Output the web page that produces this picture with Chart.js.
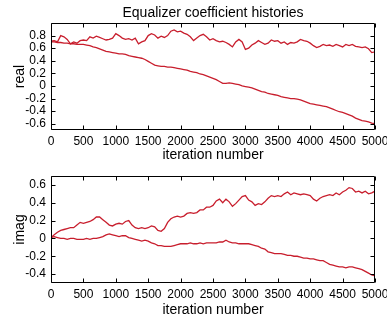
<!DOCTYPE html>
<html>
<head>
<meta charset="utf-8">
<script src="https://cdn.jsdelivr.net/npm/chart.js@4.4.1/dist/chart.umd.min.js"></script>
<style>
  body { margin: 0; background: #fff; }
  #topBox { position: absolute; left: 0; top: 0; width: 387px; height: 165px; }
  #bottomBox { position: absolute; left: 0; top: 165px; width: 387px; height: 155px; }
</style>
</head>
<body>
<div id="topBox"><canvas id="realChart"></canvas></div>
<div id="bottomBox"><canvas id="imagChart"></canvas></div>
<script>
// x 축 (iteration number), 50 간격
const iterations = [
  0, 50, 100, 150, 200, 250, 300, 350, 400, 450,
  500, 550, 600, 650, 700, 750, 800, 850, 900, 950,
  1000, 1050, 1100, 1150, 1200, 1250, 1300, 1350, 1400, 1450,
  1500, 1550, 1600, 1650, 1700, 1750, 1800, 1850, 1900, 1950,
  2000, 2050, 2100, 2150, 2200, 2250, 2300, 2350, 2400, 2450,
  2500, 2550, 2600, 2650, 2700, 2750, 2800, 2850, 2900, 2950,
  3000, 3050, 3100, 3150, 3200, 3250, 3300, 3350, 3400, 3450,
  3500, 3550, 3600, 3650, 3700, 3750, 3800, 3850, 3900, 3950,
  4000, 4050, 4100, 4150, 4200, 4250, 4300, 4350, 4400, 4450,
  4500, 4550, 4600, 4650, 4700, 4750, 4800, 4850, 4900, 4950,
  5000
];

// real - 위쪽 (흔들리는 선)
const realUpper = [
  0.71, 0.72, 0.70, 0.80, 0.78, 0.74, 0.67, 0.70, 0.68, 0.72,
  0.73, 0.72, 0.78, 0.76, 0.79, 0.77, 0.75, 0.73, 0.74, 0.76,
  0.83, 0.80, 0.76, 0.74, 0.75, 0.73, 0.76, 0.67, 0.70, 0.72,
  0.80, 0.83, 0.81, 0.76, 0.79, 0.77, 0.80, 0.87, 0.89, 0.86,
  0.87, 0.84, 0.82, 0.78, 0.72, 0.76, 0.80, 0.82, 0.78, 0.73,
  0.75, 0.72, 0.70, 0.71, 0.69, 0.66, 0.62, 0.70, 0.74, 0.70,
  0.58, 0.60, 0.65, 0.68, 0.72, 0.69, 0.66, 0.68, 0.73, 0.71,
  0.72, 0.68, 0.70, 0.66, 0.69, 0.68, 0.70, 0.74, 0.72, 0.71,
  0.68, 0.64, 0.61, 0.63, 0.66, 0.64, 0.65, 0.63, 0.66, 0.64,
  0.62, 0.66, 0.64, 0.66, 0.63, 0.62, 0.61, 0.62, 0.59, 0.53,
  0.54
];
// real - 아래쪽 (감소하는 선)
const realLower = [
  0.70, 0.70, 0.69, 0.69, 0.68, 0.68, 0.67, 0.67, 0.66, 0.66,
  0.66, 0.65, 0.64, 0.62, 0.61, 0.59, 0.57, 0.55, 0.54, 0.53,
  0.52, 0.51, 0.51, 0.50, 0.48, 0.47, 0.46, 0.45, 0.44, 0.42,
  0.39, 0.36, 0.33, 0.32, 0.31, 0.31, 0.30, 0.30, 0.29, 0.28,
  0.27, 0.26, 0.25, 0.23, 0.22, 0.21, 0.19, 0.18, 0.16, 0.14,
  0.12, 0.10, 0.07, 0.04, 0.04, 0.05, 0.04, 0.03, 0.02, 0.00,
  -0.01, -0.02, -0.03, -0.05, -0.07, -0.09, -0.10, -0.12, -0.13, -0.14,
  -0.15, -0.17, -0.18, -0.19, -0.20, -0.20, -0.21, -0.22, -0.24, -0.26,
  -0.28, -0.29, -0.30, -0.31, -0.32, -0.33, -0.35, -0.37, -0.39, -0.41,
  -0.42, -0.44, -0.46, -0.48, -0.51, -0.53, -0.55, -0.56, -0.57, -0.59,
  -0.60
];
// imag - 위쪽 (증가하는 선)
const imagUpper = [
  0.01, 0.04, 0.07, 0.09, 0.10, 0.11, 0.12, 0.12, 0.15, 0.18,
  0.17, 0.18, 0.19, 0.21, 0.24, 0.24, 0.21, 0.18, 0.15, 0.14,
  0.16, 0.17, 0.16, 0.19, 0.20, 0.15, 0.12, 0.11, 0.12, 0.11,
  0.12, 0.14, 0.13, 0.09, 0.08, 0.11, 0.18, 0.22, 0.24, 0.25,
  0.24, 0.25, 0.28, 0.29, 0.28, 0.29, 0.32, 0.32, 0.35, 0.35,
  0.37, 0.42, 0.44, 0.40, 0.44, 0.41, 0.36, 0.39, 0.43, 0.47,
  0.48, 0.43, 0.41, 0.37, 0.39, 0.38, 0.41, 0.45, 0.48, 0.47,
  0.48, 0.47, 0.50, 0.52, 0.49, 0.51, 0.50, 0.49, 0.50, 0.49,
  0.48, 0.44, 0.42, 0.45, 0.47, 0.48, 0.49, 0.48, 0.51, 0.49,
  0.52, 0.54, 0.57, 0.56, 0.52, 0.53, 0.51, 0.53, 0.50, 0.51,
  0.53
];
// imag - 아래쪽
const imagLower = [
  0.01, 0.02, 0.01, 0.00, 0.00, -0.01, 0.00, 0.00, -0.01, -0.01,
  -0.01, 0.00, -0.01, 0.00, 0.00, 0.01, 0.02, 0.04, 0.05, 0.04,
  0.03, 0.02, 0.03, 0.03, 0.01, 0.00, -0.01, -0.02, -0.03, -0.02,
  -0.03, -0.05, -0.06, -0.08, -0.08, -0.09, -0.09, -0.09, -0.08, -0.07,
  -0.06, -0.06, -0.06, -0.05, -0.06, -0.06, -0.05, -0.06, -0.05, -0.05,
  -0.05, -0.05, -0.04, -0.04, -0.02, -0.04, -0.05, -0.05, -0.06, -0.06,
  -0.06, -0.06, -0.07, -0.08, -0.09, -0.11, -0.12, -0.15, -0.16, -0.17,
  -0.17, -0.17, -0.18, -0.19, -0.19, -0.20, -0.20, -0.21, -0.22, -0.22,
  -0.23, -0.23, -0.24, -0.25, -0.25, -0.27, -0.29, -0.30, -0.31, -0.32,
  -0.32, -0.33, -0.32, -0.32, -0.33, -0.34, -0.35, -0.37, -0.39, -0.41,
  -0.42
];

// 눈금
const xTicks = [0, 500, 1000, 1500, 2000, 2500, 3000, 3500, 4000, 4500, 5000];
const realTicks = [-0.6, -0.4, -0.2, 0, 0.2, 0.4, 0.6, 0.8];
const imagTicks = [-0.4, -0.2, 0, 0.2, 0.4, 0.6];

const lineColor = 'rgb(200,30,45)';
const fontFamily = "'Liberation Sans', Arial, sans-serif";

Chart.defaults.font.family = fontFamily;
Chart.defaults.color = '#000';

// matlab 스타일 박스 + 안쪽 눈금
const boxPlugin = {
  id: 'box',
  afterDraw(chart) {
    const { ctx, chartArea: a, scales: { x, y } } = chart;
    const l = Math.round(a.left) + 0.5;
    const r = Math.round(a.right) - 0.5;
    const t = Math.round(a.top) + 0.5;
    const b = Math.round(a.bottom) - 0.5;
    ctx.save();
    ctx.strokeStyle = '#000';
    ctx.lineWidth = 1;
    ctx.beginPath();
    ctx.rect(l, t, r - l, b - t);
    x.ticks.forEach(tk => {
      const px = Math.round(x.getPixelForValue(tk.value)) + 0.5;
      ctx.moveTo(px, b); ctx.lineTo(px, b - 4);
      ctx.moveTo(px, t); ctx.lineTo(px, t + 4);
    });
    y.ticks.forEach(tk => {
      const py = Math.round(y.getPixelForValue(tk.value)) + 0.5;
      ctx.moveTo(l, py); ctx.lineTo(l + 4, py);
      ctx.moveTo(r, py); ctx.lineTo(r - 4, py);
    });
    ctx.stroke();
    ctx.restore();
  }
};

// 제목은 plot 영역 가운데에
const titlePlugin = {
  id: 'axesTitle',
  afterDraw(chart) {
    const { ctx, chartArea: a } = chart;
    ctx.save();
    ctx.fillStyle = '#000';
    ctx.font = '14px ' + fontFamily;
    ctx.textAlign = 'center';
    ctx.textBaseline = 'middle';
    ctx.fillText('Equalizer coefficient histories', (a.left + a.right) / 2, 13);
    ctx.restore();
  }
};

const toPoints = (series) => series.map((v, i) => ({ x: iterations[i], y: v }));

const buildChart = (canvasId, yLabel, yMin, yMax, yTicks, s1, s2, extra, padTop, xHeight) => {
  return new Chart(document.getElementById(canvasId), {
    type: 'line',
    data: {
      datasets: [s1, s2].map(s => ({
        data: toPoints(s),
        borderColor: lineColor,
        borderWidth: 1.3,
        pointRadius: 0,
        fill: false,
        tension: 0
      }))
    },
    options: {
      responsive: true,
      maintainAspectRatio: false,
      animation: false,
      layout: { padding: { left: 0, right: 12, top: padTop, bottom: 0 } },
      plugins: {
        legend: { display: false },
        tooltip: { enabled: false },
        title: { display: false }
      },
      scales: {
        x: {
          type: 'linear',
          min: 0,
          max: 5000,
          grid: { display: false, drawTicks: false },
          border: { display: false },
          afterBuildTicks: s => { s.ticks = xTicks.map(v => ({ value: v })); },
          ticks: { font: { size: 12 }, padding: 4, maxRotation: 0, autoSkip: false, callback: v => String(v) },
          title: { display: true, text: 'iteration number', font: { size: 14 }, padding: { top: 0, bottom: 1.6 } },
          afterFit: s => { s.height = xHeight; s.paddingLeft = 0; s.paddingRight = 0; }
        },
        y: {
          min: yMin,
          max: yMax,
          grid: { display: false, drawTicks: false },
          border: { display: false },
          afterBuildTicks: s => { s.ticks = yTicks.map(v => ({ value: v })); },
          ticks: { font: { size: 12 }, padding: 5, autoSkip: false, callback: v => String(v) },
          title: { display: true, text: yLabel, font: { size: 14 }, padding: { top: 12, bottom: 0 } },
          afterFit: s => { s.width = 51; s.paddingTop = 0; s.paddingBottom = 0; }
        }
      }
    },
    plugins: [boxPlugin].concat(extra)
  });
};

buildChart('realChart', 'real', -0.7, 1.0, realTicks, realUpper, realLower, [titlePlugin], 23, 35);
buildChart('imagChart', 'imag', -0.5, 0.7, imagTicks, imagUpper, imagLower, [], 11, 37);
</script>
</body>
</html>
